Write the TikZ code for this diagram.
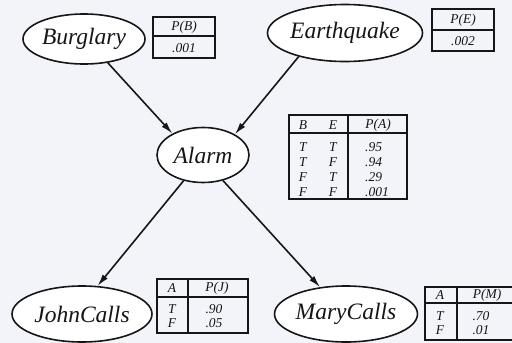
\documentclass[tikz,border=0pt]{standalone}
\usepackage{fontspec}
\setmainfont{Liberation Serif}
\usetikzlibrary{shapes.geometric,arrows.meta}
\definecolor{bg}{RGB}{243,244,250}
\definecolor{ink}{RGB}{22,22,22}
\begin{document}
\begin{tikzpicture}[x=1pt,y=-1pt,
  var/.style={ellipse,draw=ink,line width=1.6pt,fill=white,inner sep=0pt,
    font=\fontsize{23.5}{26}\selectfont\itshape,text=ink},
  cpt/.style={draw=ink,line width=1.7pt,inner sep=0pt},
  cell/.style={inner sep=0pt,font=\fontsize{13.5}{14}\selectfont\itshape,text=ink},
  hdr/.style={draw=ink,line width=2.8pt},
  sep/.style={draw=ink,line width=1.7pt},
  arr/.style={draw=ink,line width=1.6pt,-{Latex[length=12pt,width=6.5pt]}}]
\fill[bg] (0,0) rectangle (512,343);
\useasboundingbox (0,0) rectangle (512,343);

% variables
\node[var,minimum width=122pt,minimum height=50pt] (burg) at (84,39) {Burglary};
\node[var,minimum width=155pt,minimum height=57pt] (eq) at (345,33) {Earthquake};
\node[var,minimum width=92pt,minimum height=55pt] (alarm) at (203,155) {Alarm};
\node[var,minimum width=140pt,minimum height=56pt] (john) at (82,314) {JohnCalls};
\node[var,minimum width=143pt,minimum height=56pt] (mary) at (346,314) {MaryCalls};

% arrows
\draw[arr] (burg.315) -- (alarm.145);
\draw[arr] (eq.207) -- (alarm.33);
\draw[arr] (alarm.233) -- (john.61);
\draw[arr] (alarm.308) -- (mary.134);

% P(B)
\node[cpt,minimum width=62pt,minimum height=41pt] (tB) at (184,37.5) {};
\draw[hdr] (153,36) -- (215,36);
\node[cell] (tBh) at (184,27) {P(B)};
\node[cell] (tBv) at (184,48) {.001};

% P(E)
\node[cpt,minimum width=62pt,minimum height=42pt] (tE) at (463,30) {};
\draw[hdr] (432,30) -- (494,30);
\node[cell] (tEh) at (463,20) {P(E)};
\node[cell] (tEv) at (463,41) {.002};

% P(A)
\node[cpt,minimum width=118pt,minimum height=84pt] (tA) at (348,157) {};
\draw[hdr] (289,133) -- (407,133);
\draw[sep] (348,115) -- (348,199);
\node[cell] (tAb) at (303,125) {B};
\node[cell] (tAe) at (333,125) {E};
\node[cell] (tAp) at (378,125) {P(A)};
\node[cell] (a1b) at (303,147) {T};
\node[cell] (a1e) at (333,147) {T};
\node[cell,anchor=west] (a1p) at (365,147) {.95};
\node[cell] (a2b) at (303,162) {T};
\node[cell] (a2e) at (333,162) {F};
\node[cell,anchor=west] (a2p) at (365,162) {.94};
\node[cell] (a3b) at (303,177) {F};
\node[cell] (a3e) at (333,177) {T};
\node[cell,anchor=west] (a3p) at (365,177) {.29};
\node[cell] (a4b) at (303,192) {F};
\node[cell] (a4e) at (333,192) {F};
\node[cell,anchor=west] (a4p) at (365,192) {.001};

% P(J)
\node[cpt,minimum width=91pt,minimum height=54pt] (tJ) at (202.5,306) {};
\draw[hdr] (157,297) -- (248,297);
\draw[sep] (188,279) -- (188,333);
\node[cell] (tJa) at (172,288) {A};
\node[cell] (tJp) at (217,288) {P(J)};
\node[cell] (j1a) at (172,309) {T};
\node[cell] (j1p) at (214,309) {.90};
\node[cell] (j2a) at (172,323) {F};
\node[cell] (j2p) at (214,323) {.05};

% P(M)
\node[cpt,minimum width=90pt,minimum height=53pt] (tM) at (470,313.5) {};
\draw[hdr] (425,303) -- (515,303);
\draw[sep] (457,287) -- (457,340);
\node[cell] (tMa) at (440,295) {A};
\node[cell] (tMp) at (487,295) {P(M)};
\node[cell] (m1a) at (440,316) {T};
\node[cell] (m1p) at (481,316) {.70};
\node[cell] (m2a) at (440,330) {F};
\node[cell] (m2p) at (481,330) {.01};
\end{tikzpicture}
\end{document}
